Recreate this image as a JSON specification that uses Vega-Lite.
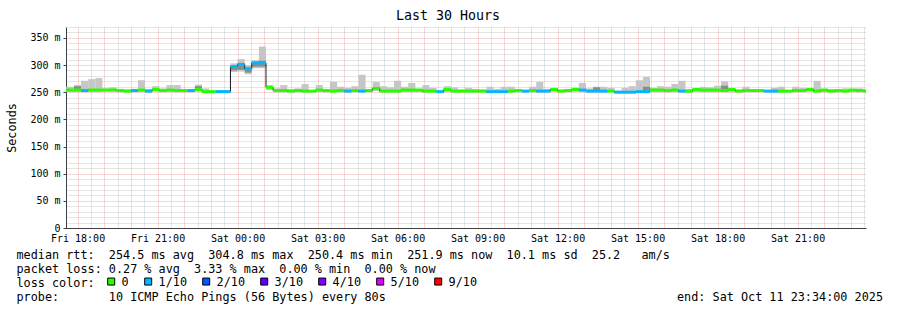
{
  "$schema": "https://vega.github.io/schema/vega-lite/v6.json",
  "width": 800,
  "height": 201,
  "autosize": {"type": "none"},
  "padding": {"left": 66, "top": 27, "right": 31, "bottom": 82},
  "background": "white",
  "title": {"text": "Last 30 Hours", "font": "DejaVu Sans Mono", "fontSize": 13.3, "fontWeight": "normal", "color": "black", "anchor": "middle", "frame": "group", "dx": -18, "dy": 14, "baseline": "alphabetic", "offset": 3},
  "data": {
    "format": {"parse": {"t": "date"}},
    "values": [
      {"t": "2025-10-10T17:20", "m": 254, "lo": 250, "hi": 260, "l": "0"},
      {"t": "2025-10-10T17:36", "m": 254, "lo": 250, "hi": 260, "l": "0"},
      {"t": "2025-10-10T17:52", "m": 254, "lo": 250, "hi": 263, "l": "0", "dl": 256, "dh": 261},
      {"t": "2025-10-10T18:08", "m": 253, "lo": 250, "hi": 271, "l": "1/10"},
      {"t": "2025-10-10T18:24", "m": 254, "lo": 250, "hi": 274, "l": "0"},
      {"t": "2025-10-10T18:40", "m": 254, "lo": 250, "hi": 276, "l": "0"},
      {"t": "2025-10-10T18:56", "m": 254, "lo": 251, "hi": 257, "l": "0"},
      {"t": "2025-10-10T19:12", "m": 254, "lo": 251, "hi": 259, "l": "0"},
      {"t": "2025-10-10T19:28", "m": 253, "lo": 250, "hi": 256, "l": "0"},
      {"t": "2025-10-10T19:44", "m": 252, "lo": 250, "hi": 255, "l": "0"},
      {"t": "2025-10-10T20:00", "m": 253, "lo": 250, "hi": 256, "l": "1/10"},
      {"t": "2025-10-10T20:16", "m": 254, "lo": 250, "hi": 272, "l": "0"},
      {"t": "2025-10-10T20:32", "m": 252, "lo": 250, "hi": 256, "l": "1/10"},
      {"t": "2025-10-10T20:48", "m": 255, "lo": 251, "hi": 261, "l": "0"},
      {"t": "2025-10-10T21:04", "m": 253, "lo": 250, "hi": 257, "l": "0"},
      {"t": "2025-10-10T21:20", "m": 254, "lo": 250, "hi": 263, "l": "0"},
      {"t": "2025-10-10T21:36", "m": 253, "lo": 250, "hi": 263, "l": "0"},
      {"t": "2025-10-10T21:52", "m": 253, "lo": 250, "hi": 255, "l": "0"},
      {"t": "2025-10-10T22:08", "m": 253, "lo": 250, "hi": 255, "l": "1/10"},
      {"t": "2025-10-10T22:24", "m": 255, "lo": 251, "hi": 264, "l": "0", "dl": 256, "dh": 261},
      {"t": "2025-10-10T22:40", "m": 251, "lo": 249, "hi": 257, "l": "0"},
      {"t": "2025-10-10T22:56", "m": 251, "lo": 249, "hi": 253, "l": "0"},
      {"t": "2025-10-10T23:12", "m": 251, "lo": 249, "hi": 254, "l": "1/10"},
      {"t": "2025-10-10T23:28", "m": 251, "lo": 249, "hi": 254, "l": "1/10"},
      {"t": "2025-10-10T23:44", "m": 297, "lo": 287, "hi": 303, "l": "1/10", "dl": 290, "dh": 299},
      {"t": "2025-10-11T00:00", "m": 301, "lo": 288, "hi": 311, "l": "1/10", "dl": 291, "dh": 304},
      {"t": "2025-10-11T00:16", "m": 293, "lo": 283, "hi": 300, "l": "1/10", "dl": 286, "dh": 296},
      {"t": "2025-10-11T00:32", "m": 304, "lo": 294, "hi": 309, "l": "1/10", "dl": 297, "dh": 306},
      {"t": "2025-10-11T00:48", "m": 304, "lo": 294, "hi": 334, "l": "1/10", "dl": 297, "dh": 308},
      {"t": "2025-10-11T01:04", "m": 259, "lo": 254, "hi": 263, "l": "0"},
      {"t": "2025-10-11T01:20", "m": 253, "lo": 250, "hi": 257, "l": "0"},
      {"t": "2025-10-11T01:36", "m": 253, "lo": 250, "hi": 263, "l": "0"},
      {"t": "2025-10-11T01:52", "m": 252, "lo": 250, "hi": 256, "l": "0"},
      {"t": "2025-10-11T02:08", "m": 253, "lo": 250, "hi": 257, "l": "0"},
      {"t": "2025-10-11T02:24", "m": 252, "lo": 250, "hi": 265, "l": "0"},
      {"t": "2025-10-11T02:40", "m": 252, "lo": 250, "hi": 254, "l": "0"},
      {"t": "2025-10-11T02:56", "m": 254, "lo": 250, "hi": 263, "l": "0"},
      {"t": "2025-10-11T03:12", "m": 253, "lo": 250, "hi": 256, "l": "0"},
      {"t": "2025-10-11T03:28", "m": 252, "lo": 250, "hi": 269, "l": "0"},
      {"t": "2025-10-11T03:44", "m": 253, "lo": 250, "hi": 260, "l": "0"},
      {"t": "2025-10-11T04:00", "m": 252, "lo": 250, "hi": 258, "l": "1/10"},
      {"t": "2025-10-11T04:16", "m": 253, "lo": 250, "hi": 261, "l": "0"},
      {"t": "2025-10-11T04:32", "m": 252, "lo": 250, "hi": 282, "l": "1/10"},
      {"t": "2025-10-11T04:48", "m": 253, "lo": 250, "hi": 256, "l": "0"},
      {"t": "2025-10-11T05:04", "m": 257, "lo": 252, "hi": 269, "l": "0"},
      {"t": "2025-10-11T05:20", "m": 252, "lo": 250, "hi": 261, "l": "0"},
      {"t": "2025-10-11T05:36", "m": 252, "lo": 250, "hi": 259, "l": "0"},
      {"t": "2025-10-11T05:52", "m": 252, "lo": 250, "hi": 271, "l": "0"},
      {"t": "2025-10-11T06:08", "m": 254, "lo": 250, "hi": 260, "l": "0"},
      {"t": "2025-10-11T06:24", "m": 254, "lo": 250, "hi": 267, "l": "0"},
      {"t": "2025-10-11T06:40", "m": 254, "lo": 250, "hi": 256, "l": "0"},
      {"t": "2025-10-11T06:56", "m": 252, "lo": 250, "hi": 263, "l": "0"},
      {"t": "2025-10-11T07:12", "m": 252, "lo": 250, "hi": 258, "l": "0"},
      {"t": "2025-10-11T07:28", "m": 251, "lo": 249, "hi": 253, "l": "1/10"},
      {"t": "2025-10-11T07:44", "m": 255, "lo": 250, "hi": 261, "l": "0"},
      {"t": "2025-10-11T08:00", "m": 252, "lo": 250, "hi": 259, "l": "0"},
      {"t": "2025-10-11T08:16", "m": 252, "lo": 250, "hi": 255, "l": "0"},
      {"t": "2025-10-11T08:32", "m": 252, "lo": 250, "hi": 258, "l": "0"},
      {"t": "2025-10-11T08:48", "m": 252, "lo": 250, "hi": 256, "l": "0"},
      {"t": "2025-10-11T09:04", "m": 252, "lo": 250, "hi": 255, "l": "0"},
      {"t": "2025-10-11T09:20", "m": 251, "lo": 249, "hi": 260, "l": "1/10"},
      {"t": "2025-10-11T09:36", "m": 251, "lo": 249, "hi": 256, "l": "1/10"},
      {"t": "2025-10-11T09:52", "m": 251, "lo": 249, "hi": 260, "l": "1/10"},
      {"t": "2025-10-11T10:08", "m": 252, "lo": 250, "hi": 260, "l": "0"},
      {"t": "2025-10-11T10:24", "m": 253, "lo": 250, "hi": 256, "l": "0"},
      {"t": "2025-10-11T10:40", "m": 252, "lo": 250, "hi": 254, "l": "1/10"},
      {"t": "2025-10-11T10:56", "m": 253, "lo": 250, "hi": 260, "l": "0"},
      {"t": "2025-10-11T11:12", "m": 252, "lo": 250, "hi": 269, "l": "1/10"},
      {"t": "2025-10-11T11:28", "m": 252, "lo": 250, "hi": 256, "l": "1/10"},
      {"t": "2025-10-11T11:44", "m": 255, "lo": 251, "hi": 258, "l": "0"},
      {"t": "2025-10-11T12:00", "m": 252, "lo": 250, "hi": 255, "l": "0"},
      {"t": "2025-10-11T12:16", "m": 253, "lo": 250, "hi": 256, "l": "0"},
      {"t": "2025-10-11T12:32", "m": 255, "lo": 251, "hi": 258, "l": "0"},
      {"t": "2025-10-11T12:48", "m": 254, "lo": 250, "hi": 267, "l": "1/10"},
      {"t": "2025-10-11T13:04", "m": 252, "lo": 250, "hi": 257, "l": "1/10"},
      {"t": "2025-10-11T13:20", "m": 252, "lo": 250, "hi": 260, "l": "1/10", "dl": 254, "dh": 259},
      {"t": "2025-10-11T13:36", "m": 252, "lo": 250, "hi": 260, "l": "1/10"},
      {"t": "2025-10-11T13:52", "m": 252, "lo": 250, "hi": 258, "l": "0"},
      {"t": "2025-10-11T14:08", "m": 250, "lo": 248, "hi": 253, "l": "1/10"},
      {"t": "2025-10-11T14:24", "m": 250, "lo": 248, "hi": 258, "l": "1/10"},
      {"t": "2025-10-11T14:40", "m": 250, "lo": 248, "hi": 261, "l": "1/10"},
      {"t": "2025-10-11T14:56", "m": 251, "lo": 249, "hi": 272, "l": "1/10"},
      {"t": "2025-10-11T15:12", "m": 251, "lo": 249, "hi": 278, "l": "1/10", "dl": 253, "dh": 260},
      {"t": "2025-10-11T15:28", "m": 254, "lo": 250, "hi": 258, "l": "0"},
      {"t": "2025-10-11T15:44", "m": 254, "lo": 250, "hi": 261, "l": "0"},
      {"t": "2025-10-11T16:00", "m": 253, "lo": 250, "hi": 260, "l": "0"},
      {"t": "2025-10-11T16:16", "m": 254, "lo": 250, "hi": 265, "l": "0"},
      {"t": "2025-10-11T16:32", "m": 252, "lo": 250, "hi": 271, "l": "1/10"},
      {"t": "2025-10-11T16:48", "m": 252, "lo": 250, "hi": 256, "l": "0"},
      {"t": "2025-10-11T17:04", "m": 255, "lo": 250, "hi": 256, "l": "0"},
      {"t": "2025-10-11T17:20", "m": 254, "lo": 250, "hi": 260, "l": "0"},
      {"t": "2025-10-11T17:36", "m": 254, "lo": 250, "hi": 259, "l": "0"},
      {"t": "2025-10-11T17:52", "m": 254, "lo": 250, "hi": 262, "l": "0"},
      {"t": "2025-10-11T18:08", "m": 253, "lo": 250, "hi": 270, "l": "0", "dl": 254, "dh": 262},
      {"t": "2025-10-11T18:24", "m": 255, "lo": 250, "hi": 256, "l": "0"},
      {"t": "2025-10-11T18:40", "m": 252, "lo": 250, "hi": 255, "l": "0"},
      {"t": "2025-10-11T18:56", "m": 253, "lo": 250, "hi": 260, "l": "0"},
      {"t": "2025-10-11T19:12", "m": 253, "lo": 250, "hi": 255, "l": "0"},
      {"t": "2025-10-11T19:28", "m": 253, "lo": 250, "hi": 255, "l": "0"},
      {"t": "2025-10-11T19:44", "m": 252, "lo": 250, "hi": 254, "l": "1/10"},
      {"t": "2025-10-11T20:00", "m": 252, "lo": 250, "hi": 258, "l": "1/10"},
      {"t": "2025-10-11T20:16", "m": 252, "lo": 250, "hi": 260, "l": "0"},
      {"t": "2025-10-11T20:32", "m": 252, "lo": 250, "hi": 254, "l": "0"},
      {"t": "2025-10-11T20:48", "m": 253, "lo": 250, "hi": 260, "l": "0"},
      {"t": "2025-10-11T21:04", "m": 253, "lo": 250, "hi": 258, "l": "0"},
      {"t": "2025-10-11T21:20", "m": 255, "lo": 251, "hi": 257, "l": "0"},
      {"t": "2025-10-11T21:36", "m": 252, "lo": 250, "hi": 271, "l": "0"},
      {"t": "2025-10-11T21:52", "m": 254, "lo": 250, "hi": 256, "l": "0"},
      {"t": "2025-10-11T22:08", "m": 252, "lo": 250, "hi": 256, "l": "0"},
      {"t": "2025-10-11T22:24", "m": 253, "lo": 250, "hi": 255, "l": "0"},
      {"t": "2025-10-11T22:40", "m": 252, "lo": 250, "hi": 257, "l": "0"},
      {"t": "2025-10-11T22:56", "m": 254, "lo": 250, "hi": 256, "l": "0"},
      {"t": "2025-10-11T23:12", "m": 253, "lo": 250, "hi": 257, "l": "0"},
      {"t": "2025-10-11T23:28", "m": 252, "lo": 250, "hi": 255, "l": "0"},
      {"t": "2025-10-11T23:44"}
    ]
  },
  "transform": [
    {"window": [{"op": "lead", "field": "t", "as": "t2"}], "sort": [{"field": "t"}]}
  ],
  "layer": [
    {
      "transform": [{"filter": "isValid(datum.m)"}],
      "mark": {"type": "rect", "color": "#c6c6c6", "clip": true},
      "encoding": {
        "x": {"field": "t", "type": "temporal",
          "scale": {"domain": [{"year": 2025, "month": 10, "date": 10, "hours": 17, "minutes": 34}, {"year": 2025, "month": 10, "date": 11, "hours": 23, "minutes": 34}], "nice": false},
          "axis": {"orient": "bottom", "tickCount": 60, "grid": true,
            "gridColor": {"condition": {"test": "minutes(datum.value) == 0", "value": "#e95f5f"}, "value": "#8f8f8f"},
            "gridOpacity": {"condition": {"test": "minutes(datum.value) == 0", "value": 0.5}, "value": 0.45},
            "gridDash": [1, 1],
            "labelExpr": "minutes(datum.value) == 0 && hours(datum.value) % 3 == 0 ? timeFormat(datum.value, '%a %H:%M') : ''",
            "labelFont": "DejaVu Sans Mono", "labelFontSize": 10, "labelColor": "black", "labelOverlap": false, "labelFlush": false, "labelPadding": 5,
            "ticks": false, "tickSize": 0, "domain": true, "domainColor": "#404040", "domainWidth": 1,
            "title": [
              "median rtt:\u00a0\u00a0254.5 ms avg\u00a0\u00a0304.8 ms max\u00a0\u00a0250.4 ms min\u00a0\u00a0251.9 ms now\u00a0\u00a010.1 ms sd\u00a0\u00a025.2\u00a0\u00a0\u00a0am/s",
              "packet loss: 0.27 % avg\u00a0\u00a03.33 % max\u00a0\u00a00.00 % min\u00a0\u00a00.00 % now",
              "loss color:",
              "probe:\u00a0\u00a0\u00a0\u00a0\u00a0\u00a0\u00a010 ICMP Echo Pings (56 Bytes) every 80s\u00a0\u00a0\u00a0\u00a0\u00a0\u00a0\u00a0\u00a0\u00a0\u00a0\u00a0\u00a0\u00a0\u00a0\u00a0\u00a0\u00a0\u00a0\u00a0\u00a0\u00a0\u00a0\u00a0\u00a0\u00a0\u00a0\u00a0\u00a0\u00a0\u00a0\u00a0\u00a0\u00a0\u00a0\u00a0\u00a0\u00a0\u00a0\u00a0\u00a0\u00a0end: Sat Oct 11 23:34:00 2025"
            ],
            "titleFont": "DejaVu Sans Mono", "titleFontSize": 11.8, "titleFontWeight": "normal", "titleColor": "black", "titleLineHeight": 14,
            "titleAlign": "left", "titleAnchor": "start", "titleBaseline": "alphabetic", "titleX": -50, "titleY": 30.5}},
        "x2": {"field": "t2"},
        "y": {"field": "lo", "type": "quantitative",
          "scale": {"domain": [0, 370], "nice": false, "zero": false},
          "axis": {"orient": "left", "tickCount": 37,
            "grid": true,
            "gridColor": {"condition": {"test": "datum.value % 50 == 0", "value": "#e95f5f"}, "value": "#8f8f8f"},
            "gridOpacity": {"condition": {"test": "datum.value % 50 == 0", "value": 0.5}, "value": 0.45},
            "gridDash": [1, 1],
            "labelExpr": "datum.value % 50 != 0 ? '' : datum.value == 0 ? '0' : datum.value + ' m'",
            "labelFont": "DejaVu Sans Mono", "labelFontSize": 10, "labelColor": "black", "labelPadding": 3, "labelOverlap": false,
            "ticks": true, "tickSize": 3, "tickColor": "#404040",
            "tickOpacity": {"condition": {"test": "datum.value % 50 == 0", "value": 1}, "value": 0},
            "domain": true, "domainColor": "#404040",
            "title": "Seconds", "titleFont": "DejaVu Sans Mono", "titleFontSize": 11.8, "titleFontWeight": "normal", "titleColor": "black",
            "titleAngle": 270, "titleX": -55, "titleY": 100.5, "titleAlign": "center", "titleBaseline": "middle"}},
        "y2": {"field": "hi"}
      }
    },
    {
      "transform": [{"filter": "isValid(datum.dh)"}],
      "mark": {"type": "rect", "color": "#8c8c8c", "clip": true},
      "encoding": {
        "x": {"field": "t", "type": "temporal"},
        "x2": {"field": "t2"},
        "y": {"field": "dl", "type": "quantitative"},
        "y2": {"field": "dh"}
      }
    },
    {
      "transform": [{"filter": "isValid(datum.m)"}],
      "mark": {"type": "line", "interpolate": "step-after", "color": "#1a1a1a", "strokeWidth": 1, "clip": true},
      "encoding": {
        "x": {"field": "t", "type": "temporal"},
        "y": {"field": "m", "type": "quantitative"}
      }
    },
    {
      "transform": [{"filter": "isValid(datum.m)"}],
      "mark": {"type": "tick", "orient": "horizontal", "size": 7.11, "thickness": 3, "xOffset": 3.555, "opacity": 1, "clip": true},
      "encoding": {
        "x": {"field": "t", "type": "temporal"},
        "y": {"field": "m", "type": "quantitative"},
        "color": {"field": "l", "type": "nominal",
          "scale": {"domain": ["0", "1/10", "2/10", "3/10", "4/10", "5/10", "9/10"], "range": ["#26ff00", "#00b8ff", "#0059ff", "#5e00ff", "#7e00ff", "#dd00ff", "#ff0000"]},
          "legend": {"orient": "none", "legendX": 39.3, "legendY": 248.5, "direction": "horizontal", "title": null,
            "symbolType": "square", "symbolSize": 49, "symbolStrokeWidth": 1, "symbolStrokeColor": "#000000", "symbolOpacity": 1,
            "labelFont": "DejaVu Sans Mono", "labelFontSize": 11.8, "labelColor": "black", "labelOffset": 4.5, "columnPadding": 13, "padding": 0, "offset": 0}}
      }
    }
  ],
  "config": {
    "view": {"stroke": null}
  }
}
